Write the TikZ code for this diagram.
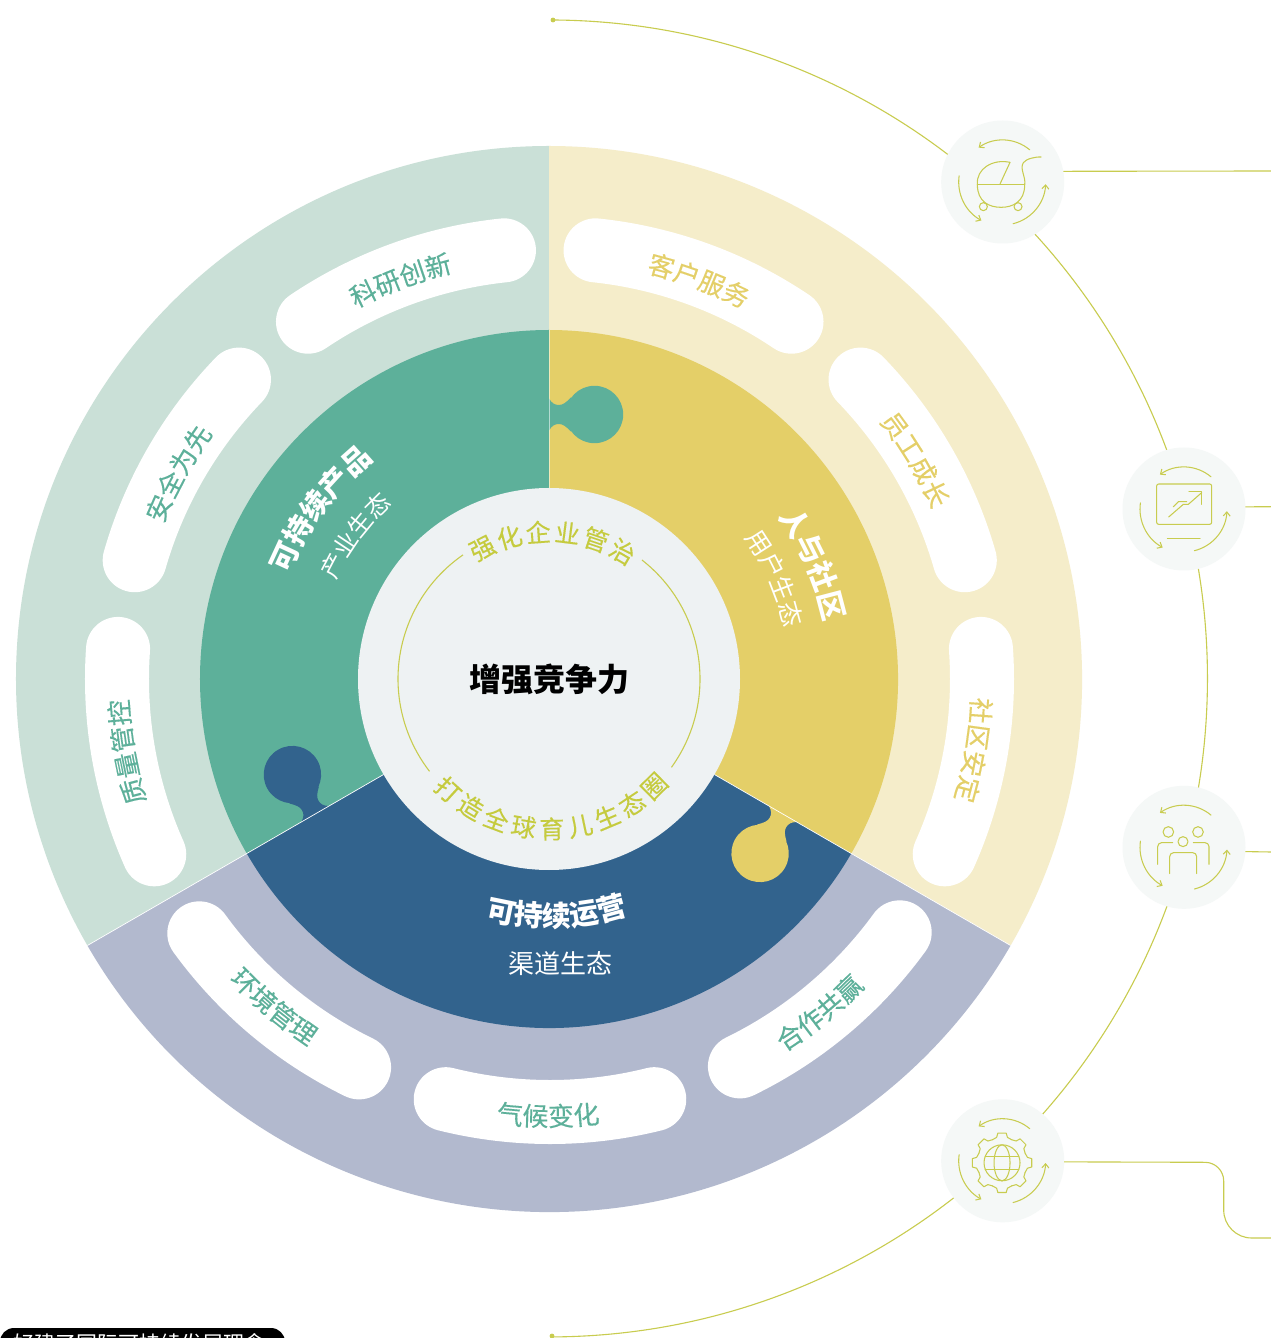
\documentclass[tikz,border=0pt]{standalone}
\usepackage{fontspec}
\setmainfont{Noto Sans CJK SC}
\newfontfamily\cjkspaced[LetterSpace=10]{Noto Sans CJK SC}
\newfontfamily\cjkmed[FakeBold=0.3]{Noto Sans CJK SC}
\newfontfamily\cjkring[FakeBold=0.2]{Noto Sans CJK SC}
\usetikzlibrary{arrows.meta,decorations.text,calc}
\definecolor{greenout}{HTML}{CAE0D7}
\definecolor{greenmid}{HTML}{5DB09A}
\definecolor{yellowout}{HTML}{F5EDCA}
\definecolor{yellowmid}{HTML}{E4CF68}
\definecolor{blueout}{HTML}{B2B9CE}
\definecolor{bluemid}{HTML}{32638D}
\definecolor{corefill}{HTML}{EEF2F3}
\definecolor{olive}{HTML}{C8CC4F}
\definecolor{ringtext}{HTML}{C5CB3E}
\definecolor{iconfill}{HTML}{F5F8F7}
\tikzset{
  pillband/.style={draw=white,line width=64pt,line cap=round},
  seam/.style={draw=white,line width=.7pt},
  oliveline/.style={draw=olive,line width=1.1pt},
  iconline/.style={draw=olive,line width=1.05pt,line cap=round,line join=round},
  iconback/.style={circle,fill=iconfill,minimum size=123pt,inner sep=0pt,outer sep=0pt},
  ringglyph/.style={font=\cjkring\fontsize{25}{25}\selectfont,text=ringtext,inner sep=0pt,text height=22pt,text depth=3pt},
}
\newcommand\sectorfill[4]{\fill[#4] (#1:#3) arc[start angle=#1,end angle=#2,radius=#3 pt] -- (0,0) -- cycle;}
\newcommand\pillarc[3]{\begin{scope}[shift={#3}]\draw[pillband] (#1:431) arc[start angle=#1,end angle=#2,radius=431pt];\end{scope}}
\newcommand\cwlabel[5]{\path[decorate,decoration={text along path,text align=center,text={|#4|#5}}]
  ({#2+#3}:#1) arc[start angle={#2+#3},end angle={#2-#3},radius=#1 pt];}
\newcommand\ccwlabel[5]{\path[decorate,decoration={text along path,text align=center,text={|#4|#5}}]
  ({#2-#3}:#1) arc[start angle={#2-#3},end angle={#2+#3},radius=#1 pt];}
\newcommand\puzzletab[4]{\begin{scope}[shift={(#1:#2)},rotate=#3]
  \fill[#4] (-1,16) -- (0,16) .. controls (3,11) and (6,9.5) .. (10,9.5) .. controls (14,9.5) and (17,12) .. (22,17)
    -- (22,-17) .. controls (17,-12) and (14,-9.5) .. (10,-9.5) .. controls (6,-9.5) and (3,-11) .. (0,-16) -- (-1,-16) -- cycle;
  \fill[#4] (45.5,0) circle[radius=28.7pt];
\end{scope}}
\newcommand\cyclearrows[1]{\begin{scope}[shift={(#1.center)}]
  \draw[iconline,-{Straight Barb[length=4pt,width=7pt]}] (50:42) arc[start angle=50,end angle=125,radius=42pt];
  \draw[iconline,-{Straight Barb[length=4pt,width=7pt]}] (172:44) arc[start angle=172,end angle=241,radius=44pt];
  \draw[iconline,-{Straight Barb[length=4pt,width=7pt]}] (284:43) arc[start angle=284,end angle=357,radius=43pt];
\end{scope}}
\newcommand\pillfmt[1]{\cjkmed\fontsize{26}{26}\selectfont\color{#1}}
\newcommand\spacedfmt[2]{\cjkspaced\fontsize{#1}{#1}\selectfont\color{#2}}
\begin{document}
\begin{tikzpicture}[x=1pt,y=1pt]
\path[use as bounding box] (-549,679) rectangle (722,-659);
\fill[white] (-549,679) rectangle (722,-659);
% outer ring
\sectorfill{90}{210}{533}{greenout}
\sectorfill{-30}{90}{533}{yellowout}
\sectorfill{210}{330}{533}{blueout}
% pills
\pillarc{96}{124}{(0,0)}\pillarc{136}{164}{(0,0)}\pillarc{176}{204}{(-1,0)}
\pillarc{216}{244}{(-1,-1)}\pillarc{256}{284}{(1,-2)}\pillarc{296}{324}{(2,0)}
\pillarc{336}{364}{(2,0)}\pillarc{16}{44}{(1.5,0)}\pillarc{56}{84}{(1.5,0)}
% middle ring
\sectorfill{90}{210}{349}{greenmid}
\sectorfill{-30}{90}{349}{yellowmid}
\sectorfill{210}{330}{349}{bluemid}
\puzzletab{90}{264.5}{0}{greenmid}
\puzzletab{210}{270}{120}{bluemid}
\puzzletab{-30}{270}{240}{yellowmid}
\draw[seam] (210:191) -- (210:533);
\draw[seam] (330:191) -- (330:533);
\draw[draw=white,line width=.6pt,opacity=.55] (.4,191) -- (.4,349);
% core
\fill[corefill] (0,0) circle[radius=191pt];
\draw[oliveline] (124.7:151) arc[start angle=124.7,end angle=217.7,radius=151pt];
\draw[oliveline] (-35.8:151) arc[start angle=-35.8,end angle=52,radius=151pt];
\node[font=\bfseries\fontsize{32}{32}\selectfont,text=black] (core) at (1,0) {增强竞争力};
\foreach \c [count=\i] in {强,化,企,业,管,治}{
  \pgfmathsetmacro\th{117-(\i-1)*11.4}
  \node[ringglyph,rotate=\th-90] (ringtop\i) at (\th:147) {\c};
}
\foreach \c [count=\i] in {打,造,全,球,育,儿,生,态,圈}{
  \pgfmathsetmacro\th{227.7+(\i-1)*10.85}
  \node[ringglyph,rotate=\th+90] (ringbot\i) at (\th:150) {\c};
}
% pill labels
\cwlabel{418}{110.4}{30}{\pillfmt{greenmid}}{科研创新}
\cwlabel{416}{151}{30}{\pillfmt{greenmid}}{安全为先}
\cwlabel{421}{189.8}{30}{\pillfmt{greenmid}}{质量管控}
\cwlabel{418}{69.4}{30}{\pillfmt{yellowmid}}{客户服务}
\cwlabel{419}{30.9}{30}{\pillfmt{yellowmid}}{员工成长}
\cwlabel{423}{-9.5}{30}{\pillfmt{yellowmid}}{社区安定}
\ccwlabel{439}{230}{30}{\pillfmt{greenmid}}{环境管理}
\ccwlabel{447}{269.9}{30}{\pillfmt{greenmid}}{气候变化}
\ccwlabel{441}{309}{30}{\pillfmt{greenmid}}{合作共赢}
% middle labels
\cwlabel{280}{143.4}{45}{\bfseries\spacedfmt{29}{white}}{可持续产品}
\cwlabel{235}{143.5}{45}{\spacedfmt{24}{white}}{产业生态}
\cwlabel{281}{23.5}{45}{\bfseries\spacedfmt{29}{white}}{人与社区}
\cwlabel{241}{24}{45}{\spacedfmt{25}{white}}{用户生态}
\ccwlabel{248}{271.9}{45}{\bfseries\fontsize{29}{29}\selectfont\color{white}}{可持续运营}
\node[font=\fontsize{26}{26}\selectfont,text=white] (channel) at (11.5,-285) {渠道生态};
% big olive arc
\coordinate (topdot) at (4,659);
\coordinate (botdot) at (3,-657);
\draw[oliveline] (topdot) arc[start angle=89.65,end angle=-89.75,radius=658.5pt];
\fill[olive] (topdot) circle[radius=2.4pt];
\fill[olive] (botdot) circle[radius=2.4pt];
% icons
\node[iconback] (icon1) at (453.7,497) {};
\node[iconback] (icon2) at (635,170) {};
\node[iconback] (icon3) at (635,-168.3) {};
\node[iconback] (icon4) at (453.7,-481.8) {};
\coordinate (end1) at (722,508);
\coordinate (end2) at (722,172.3);
\coordinate (end3) at (722,-173);
\coordinate (end4) at (722,-559);
\draw[oliveline] (icon1.10.3) -- (end1);
\draw[oliveline] (icon2.2.1) -- (end2);
\draw[oliveline] (icon3.-4.4) -- (end3);
\draw[oliveline] (icon4.-1.4) -- (656,-483.3) arc[start angle=90,end angle=0,radius=18.7pt] -- (674.7,-531) arc[start angle=180,end angle=270,radius=28pt] -- (end4);
\cyclearrows{icon1}\cyclearrows{icon2}\cyclearrows{icon3}\cyclearrows{icon4}
% stroller
\begin{scope}[shift={(icon1.center)},x=.3333pt,y=-.3333pt]
  \draw[iconline] (-76,8) -- (66,8);
  \draw[iconline] (-76,8) .. controls (-76,60) and (-40,76) .. (-5,76) .. controls (30,76) and (66,60) .. (66,8);
  \draw[iconline] (-76,8) .. controls (-80,-40) and (-30,-70) .. (22,-59) -- (-8,6);
  \draw[iconline] (66,8) .. controls (70,-15) and (50,-40) .. (62,-58) .. controls (70,-70) and (100,-76) .. (115,-75);
  \draw[iconline] (-58,74) circle[radius=4pt];
  \draw[iconline] (46,74) circle[radius=4pt];
\end{scope}
% chart screen
\begin{scope}[shift={(icon2.center)},x=.3333pt,y=-.3333pt]
  \draw[iconline,rounded corners=2pt] (-82,-75) rectangle (83,46);
  \draw[iconline] (-46,24) -- (-2,-14) -- (13,-14) -- (53,-49);
  \draw[iconline] (15,-52) -- (53,-52) -- (53,-14);
  \draw[iconline] (-32,-7) -- (-17,-22) -- (8,-22);
  \draw[iconline] (-50,89) -- (48,89);
\end{scope}
% people
\begin{scope}[shift={(icon3.center)},x=.3333pt,y=-.3333pt]
  \draw[iconline] (-47,-46) circle[radius=5.3pt];
  \draw[iconline] (42,-46) circle[radius=5.3pt];
  \draw[iconline] (-3,-17) circle[radius=5pt];
  \draw[iconline,rounded corners=4pt] (-79,51) -- (-79,-14) -- (-34,-14);
  \draw[iconline,rounded corners=4pt] (75,51) -- (75,-14) -- (28,-14);
  \draw[iconline,rounded corners=4pt] (-43,79) -- (-43,16) -- (38,16) -- (38,79);
\end{scope}
% gear and globe
\begin{scope}[shift={(icon4.center)},x=.3333pt,y=-.3333pt]
  \foreach \a in {0,45,...,315}{
    \draw[iconline] ($(-2,6)+(\a-22.5:75)$) -- ($(-2,6)+(\a-12:78)$) -- ($(-2,6)+(\a-8:90)$) -- ($(-2,6)+(\a+8:90)$) -- ($(-2,6)+(\a+12:78)$) -- ($(-2,6)+(\a+22.5:75)$);
  }
  \draw[iconline] (-2,6) circle[radius=18pt];
  \draw[iconline] (-2,6) ellipse[x radius=8pt,y radius=18pt];
  \draw[iconline] (-52.5,-13) -- (48.5,-13);
  \draw[iconline] (-52.5,25) -- (48.5,25);
\end{scope}
% cut-off caption
\begin{scope}
  \clip (-549,679) rectangle (722,-659);
  \fill[black,rounded corners=14pt] (-549,-649) rectangle (-264,-700);
  \node[font=\fontsize{21}{21}\selectfont,text=white] (caption) at (-409.5,-664) {好建了国际可持续发展理念};
\end{scope}
\end{tikzpicture}
\end{document}
